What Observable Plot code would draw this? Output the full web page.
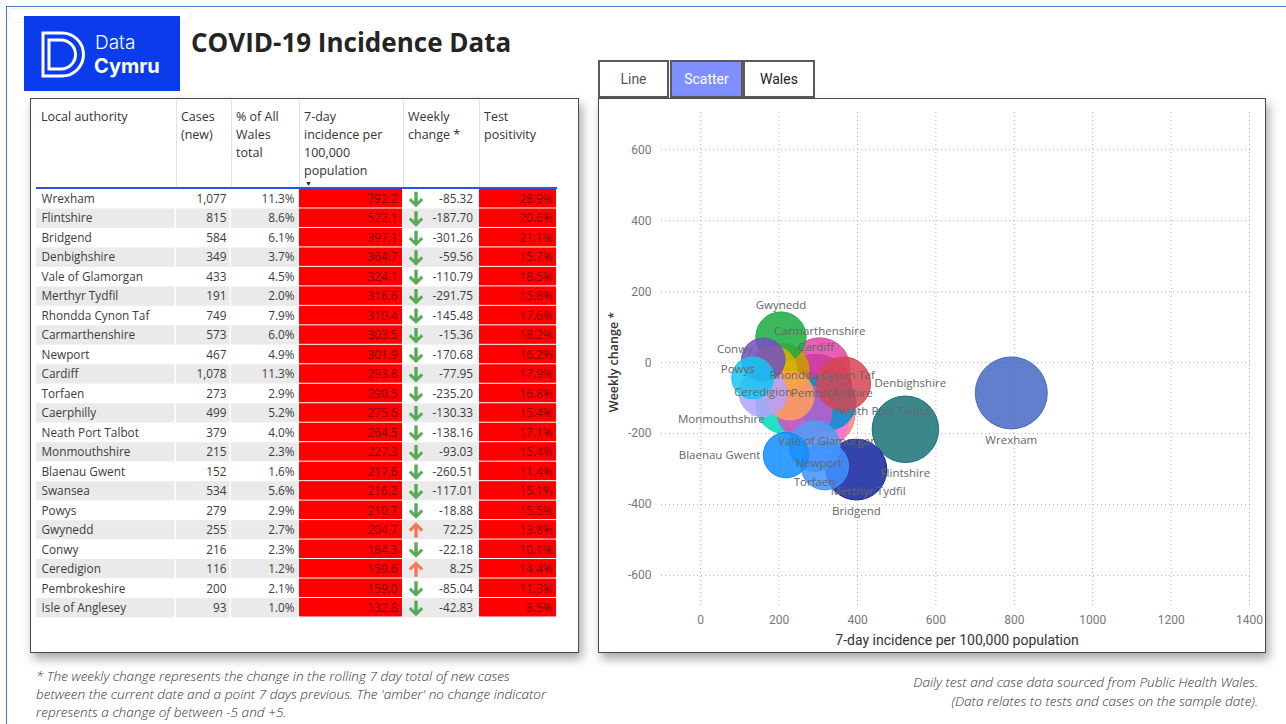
<!DOCTYPE html>
<html>
<head>
<meta charset="utf-8">
<script src="https://cdn.jsdelivr.net/npm/d3@7"></script>
<script src="https://cdn.jsdelivr.net/npm/@observablehq/plot@0.6"></script>
<style>
  html, body { margin: 0; padding: 0; }
  body { width: 1286px; height: 724px; overflow: hidden; background: #fff; position: relative;
         font-family: "Open Sans", "Noto Sans", sans-serif; color: #333; }
  .abs { position: absolute; }
  #pageBorder { left: 6px; top: 6px; width: 1400px; height: 900px; border: 1.5px solid #4a72cf; }
  #ghost { left: 9px; top: 8px; width: 180px; height: 13px; border: 1px solid #f0f0f0; border-radius: 4px; }
  #logo { left: 24px; top: 16px; width: 156px; height: 75px; background: #0a3ced; }
  #logo .t1 { position: absolute; left: 71px; top: 16px; font-family: Inter, "Open Sans", sans-serif; font-weight: 300; font-size: 19px; color: #fff; line-height: 22px; }
  #logo .t2 { position: absolute; left: 70px; top: 38px; font-family: Inter, "Open Sans", sans-serif; font-weight: 700; font-size: 20px; color: #fff; line-height: 24px; }
  #title { left: 191px; top: 24px; font-family: "Open Sans", sans-serif; font-weight: 700; font-size: 26px; color: #252423; line-height: 36px; white-space: nowrap; }
  .panel { background: #fff; border: 1px solid #4a4a4a; box-shadow: 3px 6px 10px rgba(0,0,0,0.35); }
  #tablePanel { left: 30px; top: 98px; width: 547px; height: 553px; }
  #scatterPanel { left: 598px; top: 98px; width: 666px; height: 553px; }
  .hcell { position: absolute; top: 8.5px; font-size: 12.5px; line-height: 18px; color: #333; white-space: pre; }
  .hsep { position: absolute; top: 1px; width: 1px; height: 88px; background: #e2e2ee; }
  #blueLine { position: absolute; left: 5px; top: 88px; width: 521px; height: 1.5px; background: #2a52e4; }
  #sortMark { position: absolute; left: 274px; top: 81px; font-size: 7px; line-height: 7px; color: #222; }
  #tableBody { position: absolute; left: 0px; top: 90px; line-height: 0; }
  .tab { position: absolute; top: 60px; height: 34px; border: 2px solid #5a5a5a; background: #fff;
         font-family: Roboto, "Open Sans", sans-serif; font-size: 14px; line-height: 34px; text-align: center; color: #333; }
  #scatterPlot { position: absolute; left: 0; top: 0; line-height: 0; }
  #xTitle { left: 957px; top: 632px; transform: translateX(-50%); font-family: Roboto, sans-serif; font-size: 14px; color: #333; white-space: nowrap; }
  #yTitle { left: 613px; top: 362px; transform: translate(-50%, -50%) rotate(-90deg); font-family: "Open Sans", sans-serif; font-weight: 600; font-size: 12.5px; color: #333; white-space: nowrap; }
  .note { font-family: "Open Sans", sans-serif; font-style: italic; font-weight: 300; color: #333; white-space: nowrap; }
  #noteLeft { left: 36px; top: 667px; font-size: 13.6px; line-height: 18px; }
  #noteRight { right: 28px; top: 672px; text-align: right; font-size: 13.6px; line-height: 19px; }
</style>
</head>
<body>
<div id="pageBorder" class="abs"></div>
<div id="ghost" class="abs"></div>

<div id="logo" class="abs">
  <svg width="156" height="75" style="position:absolute;left:0;top:0">
    <path d="M19,17 H38 A21.5,21.5 0 0 1 38,60 H19 Z" fill="none" stroke="#fff" stroke-width="3"/>
    <path d="M25,24 H37 A14.5,14.5 0 0 1 37,53 H25 Z" fill="none" stroke="#fff" stroke-width="3"/>
  </svg>
  <div class="t1">Data</div>
  <div class="t2">Cymru</div>
</div>
<div id="title" class="abs">COVID-19 Incidence Data</div>

<div id="tablePanel" class="abs panel">
  <div id="tableHeader"></div>
  <div id="blueLine"></div>
  <div id="sortMark">▼</div>
  <div id="tableBody"></div>
</div>

<div class="tab" style="left:598px;width:67px;color:#555">Line</div>
<div class="tab" style="left:670px;width:69px;background:#7f8fff;color:#fff">Scatter</div>
<div class="tab" style="left:743px;width:68px;color:#222">Wales</div>

<div id="scatterPanel" class="abs panel"><div id="scatterPlot"></div></div>
<div id="xTitle" class="abs">7-day incidence per 100,000 population</div>
<div id="yTitle" class="abs">Weekly change *</div>

<div id="noteLeft" class="abs note">* The weekly change represents the change in the rolling 7 day total of new cases<br>between the current date and a point 7 days previous. The 'amber' no change indicator<br>represents a change of between -5 and +5.</div>
<div id="noteRight" class="abs note">Daily test and case data sourced from Public Health Wales.<br>(Data relates to tests and cases on the sample date).</div>

<script>
// ---------------- DATA ----------------
const authorities = ["Wrexham","Flintshire","Bridgend","Denbighshire","Vale of Glamorgan","Merthyr Tydfil",
  "Rhondda Cynon Taf","Carmarthenshire","Newport","Cardiff","Torfaen","Caerphilly","Neath Port Talbot",
  "Monmouthshire","Blaenau Gwent","Swansea","Powys","Gwynedd","Conwy","Ceredigion","Pembrokeshire","Isle of Anglesey"];
const casesNew = [1077,815,584,349,433,191,749,573,467,1078,273,499,379,215,152,534,279,255,216,116,200,93];
const pctOfWales = [11.3,8.6,6.1,3.7,4.5,2.0,7.9,6.0,4.9,11.3,2.9,5.2,4.0,2.3,1.6,5.6,2.9,2.7,2.3,1.2,2.1,1.0];
const incidence7day = [792.2,522.1,397.1,364.7,324.1,316.6,310.4,303.5,301.9,293.8,290.5,275.6,264.5,227.3,217.6,216.2,210.7,204.7,184.3,159.6,159.0,132.8];
const weeklyChange = [-85.32,-187.70,-301.26,-59.56,-110.79,-291.75,-145.48,-15.36,-170.68,-77.95,-235.20,-130.33,-138.16,-93.03,-260.51,-117.01,-18.88,72.25,-22.18,8.25,-85.04,-42.83];
const testPositivity = [28.9,20.6,21.1,15.7,18.5,15.8,17.6,18.2,16.2,17.9,16.8,15.4,17.1,15.4,11.4,15.1,15.5,13.8,10.1,14.4,11.3,8.5];

const xTicks = [0,200,400,600,800,1000,1200,1400];
const yTicks = [-600,-400,-200,0,200,400,600];

// bubble colours (Power BI palette, authorities in alphabetical order)
const palette = ["#118DFF","#12239E","#E66C37","#6B007B","#E044A7","#744EC2","#D9B300","#D64550","#197278",
  "#1AAB40","#15C6F4","#4092FF","#FFA058","#BE5DC9","#F472D0","#B5A1FF","#C4A200","#FF8080","#00DBBC",
  "#4F9DF5","#0091D5","#4668C5"];

// where each bubble's data label sits (Power BI hides the others)
const labelPlacement = {
  "Gwynedd":"above","Carmarthenshire":"above","Cardiff":"above","Conwy":"aboveleft","Powys":"left",
  "Rhondda Cynon Taf":"above","Denbighshire":"right","Pembrokeshire":"right","Ceredigion":"below",
  "Neath Port Talbot":"right","Monmouthshire":"belowleft","Vale of Glamorgan":"below","Blaenau Gwent":"left",
  "Newport":"below","Torfaen":"below","Flintshire":"below","Merthyr Tydfil":"belowright","Bridgend":"below",
  "Wrexham":"below"
};

// table column layout (pixels inside the panel)
const tableCols = [
  {key:"name",  title:"Local authority",                        x0:5,   x1:145, tx:10,    anchor:"start"},
  {key:"cases", title:"Cases\n(new)",                           x0:145, x1:200, tx:195,   anchor:"end"},
  {key:"pct",   title:"% of All\nWales\ntotal",                 x0:200, x1:268, tx:263,   anchor:"end"},
  {key:"inc",   title:"7-day\nincidence per\n100,000\npopulation", x0:268, x1:372, tx:366, anchor:"end"},
  {key:"wk",    title:"Weekly\nchange *",                       x0:372, x1:448, tx:441.5, anchor:"end"},
  {key:"pos",   title:"Test\npositivity",                       x0:448, x1:526, tx:521,   anchor:"end"}
];

// ---------------- TABLE ----------------
const rows = authorities.map((name, i) => ({
  name, i, cases: casesNew[i], pct: pctOfWales[i], inc: incidence7day[i], wk: weeklyChange[i], pos: testPositivity[i]
}));

const header = document.getElementById("tableHeader");
tableCols.forEach((c, k) => {
  const d = document.createElement("div");
  d.className = "hcell";
  d.style.left = (c.x0 + 5) + "px";
  d.textContent = c.title;
  header.appendChild(d);
  if (k < tableCols.length - 1) {
    const s = document.createElement("div");
    s.className = "hsep";
    s.style.left = c.x1 + "px";
    header.appendChild(s);
  }
});

const rowH = 19.476;
const tableH = rows.length * rowH;
const isRed = k => k === "inc" || k === "pos";
const plainCells = rows.flatMap(r => tableCols.filter(c => !isRed(c.key)).map(c => ({name: r.name, i: r.i, x0: c.x0, x1: c.x1})));
const redCells = rows.flatMap(r => tableCols.filter(c => isRed(c.key)).map(c => ({name: r.name, x0: c.x0, x1: c.x1})));
const fmt = {
  name: d => d.name,
  cases: d => d3.format(",")(d.cases),
  pct: d => d.pct.toFixed(1) + "%",
  inc: d => d.inc.toFixed(1),
  wk: d => d.wk.toFixed(2),
  pos: d => d.pos.toFixed(1) + "%"
};
function poly(ctx, pts) { ctx.moveTo(pts[0][0], pts[0][1]); for (const p of pts.slice(1)) ctx.lineTo(p[0], p[1]); ctx.closePath(); }
const arrowPts = [[-1.7,-7.5],[1.7,-7.5],[1.7,2.2],[5.2,-1.3],[7.2,0.9],[0,8],[-7.2,0.9],[-5.2,-1.3],[-1.7,2.2]];
const arrowDown = {draw(ctx) { poly(ctx, arrowPts); }};
const arrowUp = {draw(ctx) { poly(ctx, arrowPts.map(([x, y]) => [x, -y])); }};
const arrowX = 384.5;

const tablePlot = Plot.plot({
  width: 547, height: Math.ceil(tableH) + 1, margin: 0,
  x: {type: "linear", domain: [0, 547], range: [0, 547], axis: null},
  y: {type: "band", domain: authorities, range: [0, tableH], padding: 0, round: false, axis: null},
  color: {type: "identity"},
  style: {fontFamily: "'Open Sans', 'Noto Sans', sans-serif", fontSize: "11.8px", background: "transparent"},
  marks: [
    Plot.barX(plainCells, {x1: "x0", x2: "x1", y: "name", fill: d => d.i % 2 ? "#EAEAEA" : "#FFFFFF", insetRight: 1.5}),
    Plot.barX(redCells, {x1: "x0", x2: "x1", y: "name", fill: "#FF0000", insetRight: 1, insetBottom: 1}),
    ...tableCols.map(c => Plot.text(rows, {
      x: () => c.tx, y: "name", text: fmt[c.key], textAnchor: c.anchor,
      fill: isRed(c.key) ? "#7a0606" : "#3c3c3c"
    })),
    Plot.dot(rows.filter(d => d.wk < -5), {x: () => arrowX, y: "name", r: 7, symbol: arrowDown, fill: "#58aa58", stroke: "none"}),
    Plot.dot(rows.filter(d => d.wk > 5), {x: () => arrowX, y: "name", r: 7, symbol: arrowUp, fill: "#f4774f", stroke: "none"})
  ]
});
document.getElementById("tableBody").appendChild(tablePlot);

// ---------------- SCATTER ----------------
const alphaNames = authorities.slice().sort(d3.ascending);
const rSpec = {type: "sqrt", domain: [0, d3.max(casesNew)], range: [14.75, 36]};
const rScale = Plot.scale({r: rSpec});
const offsets = {
  above:      r => ({dx: 0, dy: -(r + 7), a: "middle"}),
  below:      r => ({dx: 0, dy: r + 11, a: "middle"}),
  left:       r => ({dx: -(r + 3), dy: 0, a: "end"}),
  right:      r => ({dx: r + 4, dy: 0, a: "start"}),
  aboveleft:  r => ({dx: -(0.707 * r + 3), dy: -(0.707 * r + 4), a: "end"}),
  belowleft:  r => ({dx: -(0.707 * r + 8), dy: 0.707 * r + 7, a: "end"}),
  belowright: r => ({dx: 0.25 * r, dy: r + 1, a: "start"})
};
const labelMarks = rows.filter(d => labelPlacement[d.name]).map(d => {
  const o = offsets[labelPlacement[d.name]](rScale.apply(d.cases));
  return Plot.text([d], {x: "inc", y: "wk", text: "name", dx: o.dx, dy: o.dy, textAnchor: o.a,
    fill: "#666", fontSize: 11.5, fontFamily: "'Open Sans', sans-serif"});
});

const scatter = Plot.plot({
  width: 666, height: 553,
  marginLeft: 62, marginRight: 12, marginTop: 13, marginBottom: 45,
  x: {domain: [-100, 1410]},
  y: {domain: [-690, 705]},
  r: rSpec,
  color: {type: "ordinal", domain: alphaNames, range: palette},
  style: {fontFamily: "Roboto, 'Open Sans', sans-serif", fontSize: "12px", color: "#777", background: "transparent"},
  marks: [
    Plot.gridX({ticks: xTicks, stroke: "#9a9a9a", strokeOpacity: 0.8, strokeDasharray: "1,3"}),
    Plot.gridY({ticks: yTicks, stroke: "#9a9a9a", strokeOpacity: 0.8, strokeDasharray: "1,3"}),
    Plot.axisX({ticks: xTicks, tickSize: 0, tickPadding: 8, tickFormat: d => String(d), label: null, fill: "#777"}),
    Plot.axisY({ticks: yTicks, tickSize: 0, tickPadding: 10, tickFormat: d => String(d), label: null, fill: "#777"}),
    Plot.dot(rows, {x: "inc", y: "wk", r: "cases", fill: "name", stroke: "name", fillOpacity: 0.85, strokeOpacity: 1, strokeWidth: 1}),
    ...labelMarks
  ]
});
document.getElementById("scatterPlot").appendChild(scatter);
</script>
</body>
</html>
